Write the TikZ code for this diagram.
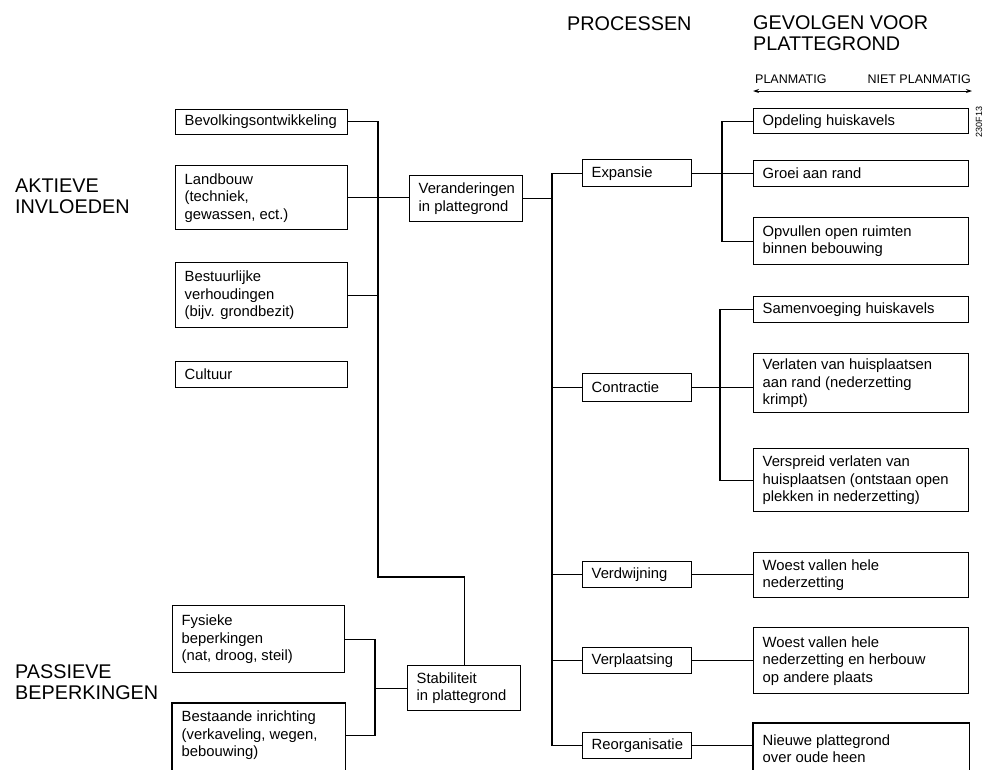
\documentclass[tikz,border=0pt]{standalone}
\usepackage{fontspec}
\setmainfont{Liberation Sans}
\usetikzlibrary{arrows.meta}
\begin{document}
\begin{tikzpicture}[x=1pt,y=-1pt,
  box/.style={draw, line width=1.4pt, anchor=north west, inner xsep=9pt, inner ysep=0pt,
    align=flush left, font={\fontsize{14.8}{17.5}\selectfont}},
  lbox/.style={box, text width=154pt},
  pbox/.style={box, text width=91pt},
  mbox/.style={box, text width=95pt},
  rbox/.style={box, text width=197pt},
  conn/.style={line width=1.2pt},
  head/.style={anchor=base west, inner sep=0pt, align=left, font={\fontsize{19.8}{20.5}\selectfont}},
  small/.style={inner sep=0pt, font={\fontsize{12.5}{14}\selectfont}}]
\useasboundingbox (0,0) rectangle (988,769);
\clip (0,0) rectangle (988,769);

% headings (base = baseline of last line)
\node[head] (akt) at (15,213) {AKTIEVE\\INVLOEDEN};
\node[head] (pas) at (15,699) {PASSIEVE\\BEPERKINGEN};
\node[head] (proc) at (567,30) {PROCESSEN};
\node[head] (gev) at (753,50) {GEVOLGEN VOOR\\PLATTEGROND};
\node[small, anchor=base west] (plan) at (755,83) {PLANMATIG};
\node[small, anchor=base east] (niet) at (971,83) {NIET PLANMATIG};
\coordinate (arL) at (753,91);
\coordinate (arR) at (972,91);
\draw[{Stealth[length=6pt,width=4pt]}-{Stealth[length=6pt,width=4pt]}, line width=1pt] (arL) -- (arR);
\node[rotate=90, inner sep=0pt, font={\fontsize{9}{10}\selectfont}] (code) at (979,122) {230F13};

% left column
\node[lbox, minimum height=25pt] (bev) at (175,108.5) {Bevolkingsontwikkeling};
\node[lbox, minimum height=64pt] (land) at (175,165) {Landbouw\\(techniek,\\gewassen, ect.)};
\node[lbox, minimum height=65pt] (best) at (175,262) {Bestuurlijke\\verhoudingen\\(bijv. grondbezit)};
\node[lbox, minimum height=26pt] (cult) at (175,361) {Cultuur};
\node[lbox, minimum height=67pt] (fys) at (172,605) {Fysieke\\beperkingen\\(nat, droog, steil)};
\node[lbox, draw=none, minimum height=63pt] (bestaande) at (172,703) {Bestaande inrichting\\(verkaveling, wegen,\\bebouwing)};
\draw[line width=1.4pt] ([yshift=-10pt]bestaande.south west) -- (bestaande.north west) -- (bestaande.north east) -- ([yshift=-10pt]bestaande.south east);

% middle
\node[mbox, minimum height=46pt] (veran) at (409,175) {Veranderingen\\in plattegrond};
\node[mbox, minimum height=45pt] (stab) at (407,665) {Stabiliteit\\in plattegrond};

% processes
\node[pbox, minimum height=27pt] (exp) at (582,159) {Expansie};
\node[pbox, minimum height=28pt] (con) at (582,373) {Contractie};
\node[pbox, minimum height=26pt] (verd) at (582,561) {Verdwijning};
\node[pbox, minimum height=26pt] (verp) at (582,647) {Verplaatsing};
\node[pbox, minimum height=26pt] (reo) at (582,732) {Reorganisatie};

% consequences
\node[rbox, minimum height=25pt] (opd) at (753,108) {Opdeling huiskavels};
\node[rbox, minimum height=26pt] (groei) at (753,160) {Groei aan rand};
\node[rbox, minimum height=47pt] (opv) at (753,217) {Opvullen open ruimten\\binnen bebouwing};
\node[rbox, minimum height=26pt] (sam) at (753,296) {Samenvoeging huiskavels};
\node[rbox, minimum height=59pt] (verl) at (753,353) {Verlaten van huisplaatsen\\aan rand (nederzetting\\krimpt)};
\node[rbox, minimum height=63pt] (versp) at (753,448) {Verspreid verlaten van\\huisplaatsen (ontstaan open\\plekken in nederzetting)};
\node[rbox, minimum height=45pt] (woest1) at (753,552) {Woest vallen hele\\nederzetting};
\node[rbox, minimum height=66pt] (woest2) at (753,627) {Woest vallen hele\\nederzetting en herbouw\\op andere plaats};
\node[rbox, draw=none, minimum height=50pt] (nieuw) at (753,723) {Nieuwe plattegrond\\over oude heen};
\draw[line width=1.4pt] ([yshift=-10pt]nieuw.south west) -- (nieuw.north west) -- (nieuw.north east) -- ([yshift=-10pt]nieuw.south east);

% connectors left
\coordinate (kA) at (378,577);
\coordinate (kF) at (375,0);
\draw[conn] (bev.east) -| (kA) -| (stab.north);
\draw[conn] (land.east) -- (land.east -| veran.west);
\draw[conn] (best.east) -- (best.east -| kA);
\draw[conn] (fys.east) -| (kF |- bestaande.east) -- (bestaande.east);
\draw[conn] (kF |- stab.west) -- (stab.west);

% connectors middle
\coordinate (kB) at (552,0);
\draw[conn] (veran.east) -- (veran.east -| kB);
\draw[conn] (exp.west) -| (kB |- reo.west) -- (reo.west);
\draw[conn] (kB |- con.west) -- (con.west);
\draw[conn] (kB |- verd.west) -- (verd.west);
\draw[conn] (kB |- verp.west) -- (verp.west);

% connectors right
\coordinate (kC) at (722,0);
\coordinate (kD) at (720,0);
\draw[conn] (exp.east) -- (exp.east -| groei.west);
\draw[conn] (opd.west) -| (kC |- opv.west) -- (opv.west);
\draw[conn] (con.east) -- (con.east -| verl.west);
\draw[conn] (sam.west) -| (kD |- versp.west) -- (versp.west);
\draw[conn] (verd.east) -- (verd.east -| woest1.west);
\draw[conn] (verp.east) -- (verp.east -| woest2.west);
\draw[conn] (reo.east) -- (reo.east -| nieuw.west);
\end{tikzpicture}
\end{document}
